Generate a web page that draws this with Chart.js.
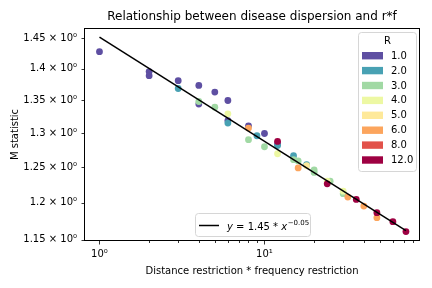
<!DOCTYPE html>
<html>
<head>
<meta charset="utf-8">
<script src="https://cdn.jsdelivr.net/npm/chart.js@4.4.1/dist/chart.umd.min.js"></script>
<style>
html,body{margin:0;padding:0;background:#fff;}
canvas{display:block;}
</style>
</head>
<body>
<canvas id="c" width="432" height="288"></canvas>
<script>
// ---- data ----
const R_LEVELS = ['1.0','2.0','3.0','4.0','5.0','6.0','8.0','12.0'];
const R_COLORS = ['#5e4fa2','#48a1b3','#a1d9a4','#edf8a3','#fee99a','#fca55d','#e2524a','#9e0142'];

const R1_X = [1, 2, 3, 4, 5, 6, 2, 4, 6, 8, 10, 12];
const R1_Y = [1.428, 1.3956, 1.381, 1.3734, 1.363, 1.3498, 1.389, 1.3442, 1.319, 1.311, 1.2995, 1.284];
const R2_X = [3, 6, 9, 12, 15, 18];
const R2_Y = [1.3686, 1.3151, 1.2961, 1.2815, 1.2666, 1.2535];
const R3_X = [4, 8, 16, 20, 5, 10, 15, 20, 25, 30];
const R3_Y = [1.3483, 1.2902, 1.259, 1.2425, 1.3395, 1.2798, 1.2608, 1.246, 1.2300, 1.2125];
const R4_X = [6, 12, 24, 30];
const R4_Y = [1.3292, 1.2695, 1.2299, 1.2159];
const R5_X = [18];
const R5_Y = [1.2521];
const R6_X = [8, 16, 32, 40, 48];
const R6_Y = [1.3076, 1.2489, 1.2077, 1.1952, 1.1794];
const R8_X = [];
const R8_Y = [];
const R12_X = [12, 24, 36, 48, 60, 72];
const R12_Y = [1.2877, 1.2263, 1.2044, 1.1862, 1.1740, 1.1606];

const SERIES_X = [R1_X, R2_X, R3_X, R4_X, R5_X, R6_X, R8_X, R12_X];
const SERIES_Y = [R1_Y, R2_Y, R3_Y, R4_Y, R5_Y, R6_Y, R8_Y, R12_Y];

// fitted power law y = a * x^b
const FIT_A = 1.452;
const FIT_B = -0.0521;
const FIT_X = [1, 72];

const X_MAJOR = [1, 10];
const X_MINOR = [2,3,4,5,6,7,8,9,20,30,40,50,60,70,80];
const Y_TICKS = [1.15, 1.2, 1.25, 1.3, 1.35, 1.4, 1.45];

const TITLE = 'Relationship between disease dispersion and r*f';
const X_LABEL = 'Distance restriction * frequency restriction';
const Y_LABEL = 'M statistic';
const LEGEND_TITLE = 'R';

// ---- build datasets ----
const datasets = [];
SERIES_X.forEach((xs, i) => {
  datasets.push({
    type: 'scatter',
    label: R_LEVELS[i],
    data: xs.map((x, j) => ({x: x, y: SERIES_Y[i][j]})),
    backgroundColor: R_COLORS[i],
    borderWidth: 0,
    pointRadius: 3.4,
    pointHoverRadius: 3.4,
    order: 100 - i
  });
});
datasets.push({
  type: 'line',
  label: 'fit',
  data: FIT_X.map(x => ({x: x, y: FIT_A * Math.pow(x, FIT_B)})),
  borderColor: '#000',
  borderWidth: 1.5,
  pointRadius: 0,
  fill: false,
  order: -100
});

const FONT = 'DejaVu Sans';

const decor = {
  id: 'decor',
  afterDraw(chart) {
    const ctx = chart.ctx;
    const a = chart.chartArea;
    const xs = chart.scales.x, ys = chart.scales.y;
    ctx.save();
    // frame
    ctx.strokeStyle = '#000';
    ctx.lineWidth = 1;
    ctx.strokeRect(Math.round(a.left) + 0.5, Math.round(a.top) + 0.5,
                   Math.round(a.right - a.left) - 1, Math.round(a.bottom - a.top) - 1);
    // x ticks
    const bottom = Math.round(a.bottom);
    ctx.beginPath();
    X_MAJOR.forEach(v => {
      const px = Math.round(xs.getPixelForValue(v)) + 0.5;
      ctx.moveTo(px, bottom); ctx.lineTo(px, bottom + 3.5);
    });
    X_MINOR.forEach(v => {
      const px = Math.round(xs.getPixelForValue(v)) + 0.5;
      ctx.moveTo(px, bottom); ctx.lineTo(px, bottom + 2);
    });
    // y ticks
    const left = Math.round(a.left);
    Y_TICKS.forEach(v => {
      const py = Math.round(ys.getPixelForValue(v)) + 0.5;
      ctx.moveTo(left, py); ctx.lineTo(left - 2.5, py);
    });
    ctx.lineWidth = 0.8;
    ctx.stroke();

    // title and axis labels
    ctx.fillStyle = '#000';
    ctx.textAlign = 'center';
    ctx.textBaseline = 'middle';
    const cx = (a.left + a.right) / 2;
    ctx.font = '12px "' + FONT + '"';
    ctx.fillText(TITLE, cx, 17);
    ctx.font = '10px "' + FONT + '"';
    ctx.fillText(X_LABEL, cx, 271);
    ctx.save();
    ctx.translate(15, (a.top + a.bottom) / 2);
    ctx.rotate(-Math.PI / 2);
    ctx.fillText(Y_LABEL, 0, 0);
    ctx.restore();

    // R legend
    const lx = 358.5, ly = 32.5, lw = 58, lh = 139;
    roundRect(ctx, lx, ly, lw, lh, 3);
    ctx.fillStyle = 'rgba(255,255,255,0.8)';
    ctx.fill();
    ctx.strokeStyle = '#d6d6d6';
    ctx.lineWidth = 1;
    ctx.stroke();
    ctx.fillStyle = '#000';
    ctx.font = '10px "' + FONT + '"';
    ctx.textAlign = 'center';
    ctx.fillText(LEGEND_TITLE, lx + lw / 2, 41);
    ctx.textAlign = 'left';
    R_LEVELS.forEach((lab, i) => {
      const yy = 55.7 + i * 14.9;
      ctx.fillStyle = R_COLORS[i];
      ctx.fillRect(362, yy - 3.7, 21, 7.4);
      ctx.fillStyle = '#000';
      ctx.fillText(lab, 391, yy + 0.5);
    });

    // fit legend
    const bx = 195.5, by = 213.5, bw = 115, bh = 23;
    roundRect(ctx, bx, by, bw, bh, 3);
    ctx.fillStyle = 'rgba(255,255,255,0.8)';
    ctx.fill();
    ctx.strokeStyle = '#d6d6d6';
    ctx.stroke();
    ctx.beginPath();
    ctx.moveTo(199, 225.5); ctx.lineTo(219, 225.5);
    ctx.strokeStyle = '#000';
    ctx.lineWidth = 1.5;
    ctx.stroke();
    ctx.fillStyle = '#000';
    ctx.textBaseline = 'alphabetic';
    let tx = 227;
    const base = 229.5;
    const parts = [
      ['italic 10px "' + FONT + '"', 'y', 0],
      ['10px "' + FONT + '"', ' = 1.45 * ', 0],
      ['italic 10px "' + FONT + '"', 'x', 0],
      ['7px "' + FONT + '"', '\u22120.05', -4.5]
    ];
    parts.forEach(p => {
      ctx.font = p[0];
      ctx.fillText(p[1], tx, base + p[2]);
      tx += ctx.measureText(p[1]).width + (p[1] === 'x' ? 0.5 : 0);
    });
    ctx.restore();
  }
};

function roundRect(ctx, x, y, w, h, r) {
  ctx.beginPath();
  ctx.moveTo(x + r, y);
  ctx.lineTo(x + w - r, y);
  ctx.quadraticCurveTo(x + w, y, x + w, y + r);
  ctx.lineTo(x + w, y + h - r);
  ctx.quadraticCurveTo(x + w, y + h, x + w - r, y + h);
  ctx.lineTo(x + r, y + h);
  ctx.quadraticCurveTo(x, y + h, x, y + h - r);
  ctx.lineTo(x, y + r);
  ctx.quadraticCurveTo(x, y, x + r, y);
  ctx.closePath();
}

const supers = {'0':'\u2070','1':'\u00b9'};

new Chart(document.getElementById('c'), {
  data: {datasets: datasets},
  options: {
    responsive: false,
    devicePixelRatio: 1,
    animation: false,
    events: [],
    layout: {padding: {top: 28, right: 12, left: 0, bottom: 0}},
    plugins: {legend: {display: false}, tooltip: {enabled: false}, title: {display: false}},
    scales: {
      x: {
        type: 'logarithmic',
        min: 0.8058,
        max: 87.6,
        afterBuildTicks(s) {
          s.ticks = X_MAJOR.concat(X_MINOR).sort((p, q) => p - q).map(v => ({value: v}));
        },
        afterFit(s) { s.height = 47; },
        grid: {display: true, drawOnChartArea: false, drawTicks: true, tickLength: 3.5, color: 'rgba(0,0,0,0)'},
        border: {display: false},
        ticks: {
          autoSkip: false, maxRotation: 0, padding: 4,
          color: '#000',
          font: {family: FONT, size: 10},
          callback(v) {
            const i = X_MAJOR.indexOf(v);
            if (i < 0) return '';
            return '10' + supers[String(i)];
          }
        }
      },
      y: {
        type: 'logarithmic',
        min: 1.1481,
        max: 1.4674,
        afterBuildTicks(s) {
          s.ticks = Y_TICKS.map(v => ({value: v}));
        },
        afterFit(s) { s.width = 84; },
        grid: {display: true, drawOnChartArea: false, drawTicks: true, tickLength: 3.5, color: 'rgba(0,0,0,0)'},
        border: {display: false},
        ticks: {
          autoSkip: false, padding: 3.5,
          color: '#000',
          font: {family: FONT, size: 10},
          callback(v) {
            let s = Number(v).toFixed(2);
            if (s.endsWith('0')) s = s.slice(0, -1);
            return s + ' \u00d7 10\u2070';
          }
        }
      }
    }
  },
  plugins: [decor]
});
</script>
</body>
</html>
